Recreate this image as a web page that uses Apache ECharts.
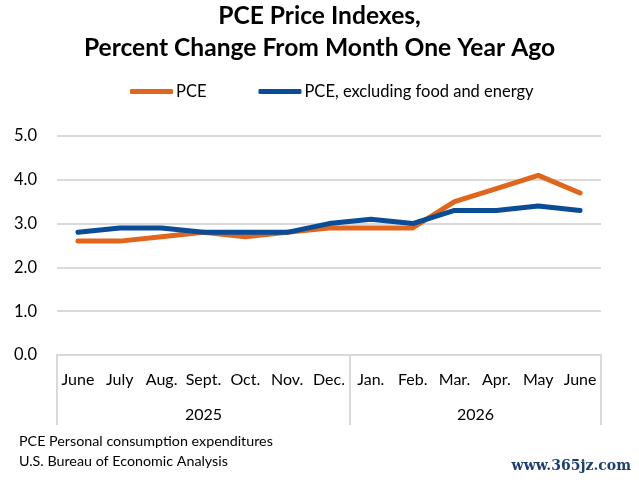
<!DOCTYPE html>
<html>
<head>
<meta charset="utf-8">
<script src="https://cdn.jsdelivr.net/npm/echarts@6.0.0/dist/echarts.min.js"></script>
<style>
  html, body { margin: 0; padding: 0; background: #fff; }
  #chart { width: 639px; height: 484px; }
</style>
</head>
<body>
<div id="chart"></div>
<script>
// months on the axis, and how many of them fall in each year
var months = ['June', 'July', 'Aug.', 'Sept.', 'Oct.', 'Nov.', 'Dec.', 'Jan.', 'Feb.', 'Mar.', 'Apr.', 'May', 'June'];
var years = ['2025', '2026'];
var monthsPerYear = [7, 6];

// percent change from month one year ago
var pce = [2.6, 2.6, 2.7, 2.8, 2.7, 2.8, 2.9, 2.9, 2.9, 3.5, 3.8, 4.1, 3.7];
var pceCore = [2.8, 2.9, 2.9, 2.8, 2.8, 2.8, 3.0, 3.1, 3.0, 3.3, 3.3, 3.4, 3.3];

var yTicks = [0, 1, 2, 3, 4, 5];

// year separators and year label centres, in category index units
var bounds = [-0.5];
var centers = [];
var yearOf = {};
(function () {
    var start = -0.5;
    for (var i = 0; i < monthsPerYear.length; i++) {
        var end = start + monthsPerYear[i];
        bounds.push(end);
        var c = (start + end) / 2;
        centers.push(c);
        yearOf[c] = years[i];
        start = end;
    }
})();

var FONT = 'Lato';
var chart = echarts.init(document.getElementById('chart'));

var option = {
    animation: false,
    backgroundColor: '#fff',
    textStyle: { fontFamily: FONT },
    title: {
        text: 'PCE Price Indexes,\nPercent Change From Month One Year Ago',
        left: 'center',
        top: 0,
        padding: [0, 5],
        textStyle: { fontFamily: FONT, fontWeight: 'bold', fontSize: 24.6, lineHeight: 32, color: '#000' }
    },
    legend: {
        top: 78,
        left: 125,
        icon: 'roundRect',
        itemWidth: 43,
        itemHeight: 5,
        itemGap: 52,
        textStyle: { fontFamily: FONT, fontSize: 16.5, color: '#000', padding: [0, 0, 0, -2] },
        data: ['PCE', 'PCE, excluding food and energy']
    },
    grid: { left: 57, right: 38, top: 136, bottom: 129, containLabel: false },
    xAxis: [
        {
            type: 'category',
            data: months,
            boundaryGap: true,
            axisLine: { show: true, lineStyle: { color: '#d9d9d9', width: 2 } },
            axisTick: { show: false },
            axisLabel: { color: '#000', fontSize: 16, margin: 17, interval: 0 }
        },
        {
            type: 'value',
            position: 'bottom',
            min: -0.5,
            max: 12.5,
            axisLine: { show: false },
            splitLine: { show: false },
            axisTick: { show: true, customValues: bounds, length: 70, lineStyle: { color: '#d9d9d9', width: 2 } },
            axisLabel: {
                customValues: centers,
                color: '#000', fontSize: 16, margin: 52,
                formatter: function (v) { return yearOf[v] || ''; }
            }
        }
    ],
    yAxis: {
        type: 'value',
        min: yTicks[0],
        max: yTicks[yTicks.length - 1],
        interval: 1,
        axisLine: { show: false },
        axisTick: { show: false },
        splitLine: { lineStyle: { color: '#d9d9d9', width: 2 } },
        axisLabel: { color: '#000', fontSize: 16.5, margin: 20, formatter: function (v) { return v.toFixed(1); } }
    },
    series: [
        {
            name: 'PCE',
            type: 'line',
            data: pce,
            showSymbol: false,
            symbol: 'none',
            color: '#e0651d',
            lineStyle: { width: 5, color: '#e0651d', cap: 'round', join: 'round' }
        },
        {
            name: 'PCE, excluding food and energy',
            type: 'line',
            data: pceCore,
            showSymbol: false,
            symbol: 'none',
            color: '#0b4c97',
            lineStyle: { width: 5, color: '#0b4c97', cap: 'round', join: 'round' }
        }
    ],
    graphic: [
        {
            type: 'text', left: 19, top: 431,
            style: { text: 'PCE Personal consumption expenditures\nU.S. Bureau of Economic Analysis', fontFamily: FONT, fontSize: 14.3, lineHeight: 20, fill: '#000' }
        },
        {
            type: 'text', right: 8, top: 459,
            style: { text: 'www.365jz.com', fontFamily: 'DejaVu Serif', fontSize: 14, fontWeight: 'bold', fill: '#1f3f70' }
        }
    ]
};

chart.setOption(option);
</script>
</body>
</html>
